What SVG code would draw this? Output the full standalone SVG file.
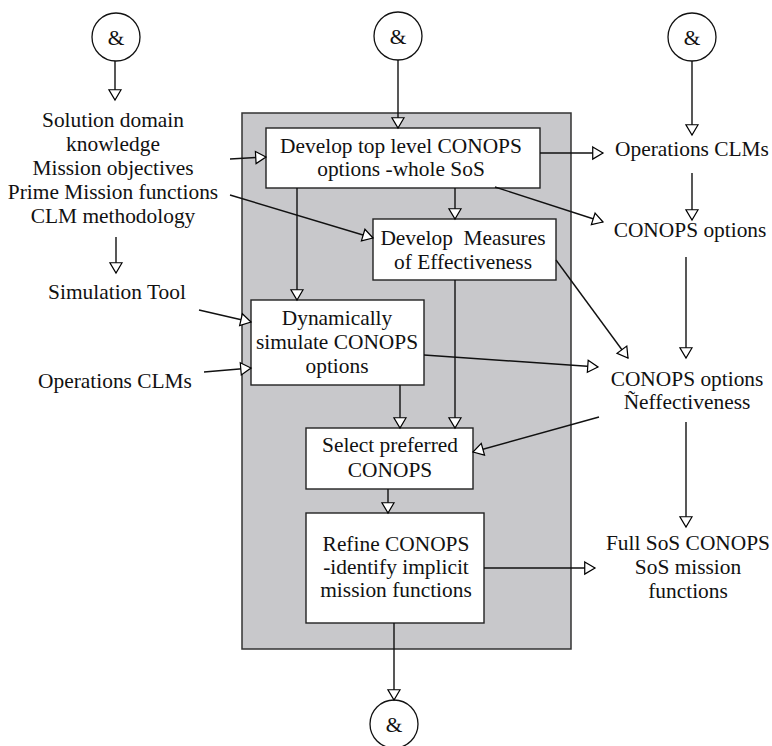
<svg xmlns="http://www.w3.org/2000/svg" width="772" height="746" viewBox="0 0 772 746">
<defs>
<marker id="arr" markerUnits="userSpaceOnUse" markerWidth="13" markerHeight="14" refX="11" refY="6.5" orient="auto" viewBox="-1 -1 13 15" overflow="visible">
<path d="M0,0 L11,6.5 L0,13 Z" fill="#fff" stroke="#000" stroke-width="1.3"/>
</marker>
</defs>
<style>
text{font-family:"Liberation Serif","Times New Roman",serif;font-size:21.4px;fill:#111;text-anchor:middle}
.box{fill:#fff;stroke:#222;stroke-width:1.4}
.circ{fill:#fff;stroke:#111;stroke-width:1.3}
.c line{stroke:#111;stroke-width:1.4;marker-end:url(#arr)}
</style>
<rect id="container" x="242" y="113" width="329" height="536" fill="#c8c8cb" stroke="#333" stroke-width="1.5"/>

<g id="and-top-left"><circle class="circ" cx="116" cy="37" r="24"/><text x="116" y="45">&amp;</text></g>
<g id="and-top-center"><circle class="circ" cx="398" cy="36" r="24"/><text x="398" y="44">&amp;</text></g>
<g id="and-top-right"><circle class="circ" cx="692" cy="37" r="24"/><text x="692" y="45">&amp;</text></g>
<g id="and-bottom"><circle class="circ" cx="394" cy="724" r="24"/><text x="394" y="732">&amp;</text></g>

<g id="inputs-left">
<text x="113" y="127">Solution domain</text>
<text x="113" y="151">knowledge</text>
<text x="113" y="175">Mission objectives</text>
<text x="113" y="199">Prime Mission functions</text>
<text x="113" y="223">CLM methodology</text>
</g>
<g id="sim-tool"><text x="117" y="299">Simulation Tool</text></g>
<g id="ops-clms-left"><text x="115" y="388">Operations CLMs</text></g>

<g id="ops-clms-right"><text x="692" y="156">Operations CLMs</text></g>
<g id="conops-options"><text x="690" y="237">CONOPS options</text></g>
<g id="conops-eff"><text x="687" y="386">CONOPS options</text><text x="687" y="409">Ñeffectiveness</text></g>
<g id="full-sos"><text x="688" y="550">Full SoS CONOPS</text><text x="688" y="574">SoS mission</text><text x="688" y="598">functions</text></g>

<g id="develop-top"><rect class="box" x="266" y="128" width="274" height="60"/><text x="401" y="153">Develop top level CONOPS</text><text x="401" y="176">options -whole SoS</text></g>
<g id="develop-moe"><rect class="box" x="373" y="219" width="183" height="61"/><text x="463" y="245" xml:space="preserve">Develop  Measures</text><text x="463" y="269">of Effectiveness</text></g>
<g id="simulate"><rect class="box" x="251" y="300" width="173" height="85"/><text x="337" y="325">Dynamically</text><text x="337" y="349">simulate CONOPS</text><text x="337" y="373">options</text></g>
<g id="select"><rect class="box" x="306" y="428" width="167" height="61"/><text x="390" y="452">Select preferred</text><text x="390" y="477">CONOPS</text></g>
<g id="refine"><rect class="box" x="306" y="513" width="178" height="110"/><text x="396" y="551">Refine CONOPS</text><text x="396" y="574">-identify implicit</text><text x="396" y="597">mission functions</text></g>

<g id="connectors" class="c">
<line x1="115" y1="61" x2="115" y2="100"/>
<line x1="116" y1="237" x2="116" y2="273"/>
<line x1="398" y1="60" x2="398" y2="128"/>
<line x1="692" y1="61" x2="692" y2="135"/>
<line x1="692" y1="173" x2="692" y2="220"/>
<line x1="686" y1="257" x2="686" y2="358"/>
<line x1="686" y1="422" x2="686" y2="527"/>
<line x1="540" y1="153" x2="603" y2="153"/>
<line x1="495" y1="187" x2="603" y2="222"/>
<line x1="230" y1="159" x2="266" y2="157"/>
<line x1="230" y1="195" x2="373" y2="238"/>
<line x1="455" y1="188" x2="455" y2="219"/>
<line x1="297" y1="188" x2="297" y2="300"/>
<line x1="199" y1="310" x2="251" y2="322"/>
<line x1="204" y1="372" x2="251" y2="368"/>
<line x1="424" y1="355" x2="598" y2="367"/>
<line x1="556" y1="260" x2="628" y2="358"/>
<line x1="455" y1="280" x2="455" y2="428"/>
<line x1="400" y1="385" x2="400" y2="428"/>
<line x1="599" y1="417" x2="473" y2="452"/>
<line x1="388" y1="489" x2="388" y2="513"/>
<line x1="484" y1="568" x2="595" y2="568"/>
<line x1="394" y1="623" x2="394" y2="700"/>
</g>
</svg>
